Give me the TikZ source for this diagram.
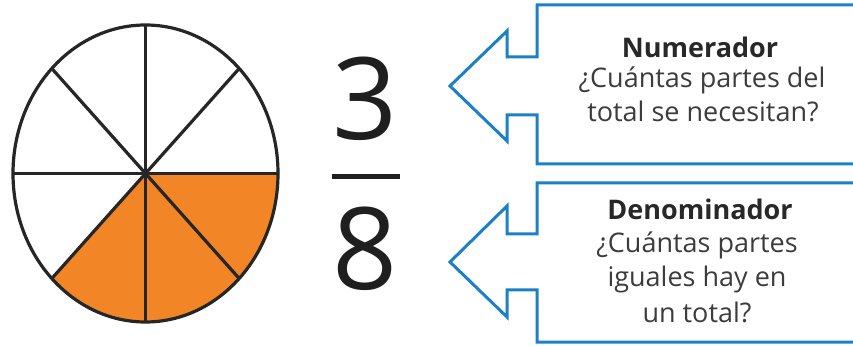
\documentclass[tikz,border=0pt]{standalone}
\usepackage{fontspec}
\setmainfont{Open Sans}
\usetikzlibrary{calc}
\definecolor{pieorange}{RGB}{242,134,38}
\definecolor{arrowblue}{RGB}{28,128,198}
\definecolor{txtdark}{RGB}{40,40,40}
\definecolor{txtgray}{RGB}{60,60,60}
\begin{document}
\begin{tikzpicture}[x=1pt,y=1pt,
  piedge/.style={line width=3.2pt,draw=black!85},
  bluearrow/.style={line width=3pt,draw=arrowblue,line join=miter},
  titletxt/.style={anchor=base,inner sep=0pt,font=\fontsize{27}{32}\selectfont\bfseries,text=txtdark},
  bodytxt/.style={anchor=base,inner sep=0pt,font=\fontsize{27}{32}\selectfont,text=txtgray},
  digit/.style={anchor=base,inner sep=0pt,font=\fontsize{114}{120}\selectfont,text=black!88}]
\useasboundingbox (0,0) rectangle (853,345);
% pie
\coordinate (c) at (145.5,171.5);
\fill[pieorange] (c) -- ++(0:132.5 and 148.5) arc[start angle=0,end angle=-135,x radius=132.5,y radius=148.5] -- cycle;
\draw[piedge] (c) ellipse[x radius=132.5,y radius=148.5];
\foreach \a in {0,45,90,135}{
  \draw[piedge] ($(c)+(\a:132.5 and 148.5)$) -- ($(c)+(\a+180:132.5 and 148.5)$);
}
% fraction
\node[digit] (three) at (365,205) {3};
\node[digit] (eight) at (365,55) {8};
\coordinate (barL) at (332,168);
\coordinate (barR) at (400,168);
\draw[line width=5pt,black!88] (barL) -- (barR);
% arrows
\draw[bluearrow] (858,340) -- (537,340) -- (537,288) -- (507,288) -- (507,314) -- (450,259) -- (507,204) -- (507,230) -- (537,230) -- (537,181) -- (858,181);
\draw[bluearrow] (858,162) -- (537,162) -- (537,111) -- (507,111) -- (507,139) -- (450,83) -- (507,28) -- (507,55) -- (537,55) -- (537,3) -- (858,3);
% texts
\node[titletxt] (num1) at (700,287) {Numerador};
\node[bodytxt] (num2) at (702,257) {¿Cuántas partes del};
\node[bodytxt] (num3) at (703,223) {total se necesitan?};
\node[titletxt] (den1) at (700,125) {Denominador};
\node[bodytxt] (den2) at (697,92) {¿Cuántas partes};
\node[bodytxt] (den3) at (697,58) {iguales hay en};
\node[bodytxt] (den4) at (697,22) {un total?};
\end{tikzpicture}
\end{document}
